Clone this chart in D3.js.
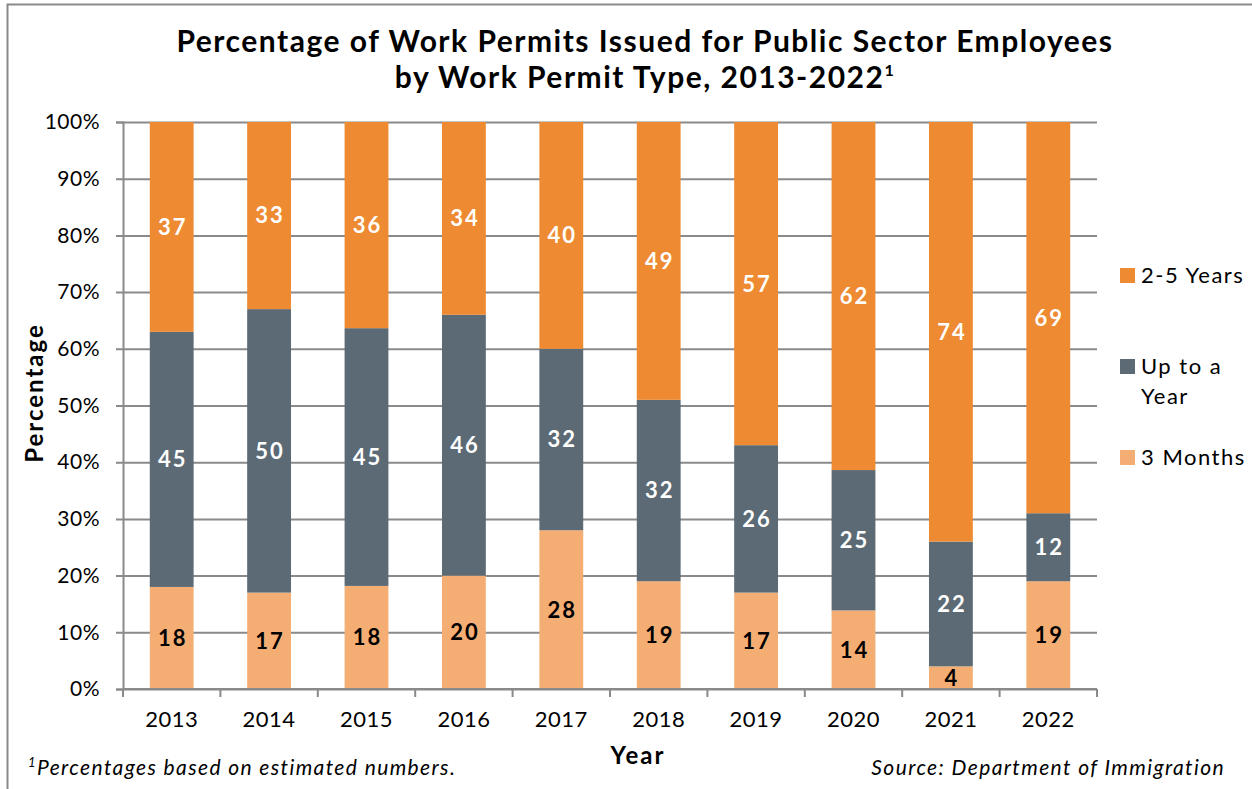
<!DOCTYPE html>
<html>
<head>
	<title>Work Permits by Type</title>
	<script src="https://cdn.jsdelivr.net/npm/d3@7/dist/d3.min.js"></script>
	<style>
		body { margin: 0; background: #fff; }
		text { font-family: Lato, "Open Sans", sans-serif; }
	</style>
</head>
<body>
<script>
	// data (rounded labels, % of permits)
	var years = ["2013","2014","2015","2016","2017","2018","2019","2020","2021","2022"];
	var threeMonths = [18, 17, 18, 20, 28, 19, 17, 14, 4, 19];
	var upToYear    = [45, 50, 45, 46, 32, 32, 26, 25, 22, 12];
	var twoToFive   = [37, 33, 36, 34, 40, 49, 57, 62, 74, 69];
	var seriesNames = ["3 Months", "Up to a Year", "2-5 Years"];
	var yTicks = [0, 0.1, 0.2, 0.3, 0.4, 0.5, 0.6, 0.7, 0.8, 0.9, 1];

	var colors = {"3 Months": "#F4AE74", "Up to a Year": "#5B6A74", "2-5 Years": "#EE8A32"};
	var labelColors = {"3 Months": "#000", "Up to a Year": "#fff", "2-5 Years": "#fff"};

	var svgWidth = 1252, svgHeight = 789;
	var margin = {top: 122, left: 123, right: 155, bottom: 100};
	var width = svgWidth - margin.left - margin.right,   // 974
		height = svgHeight - margin.top - margin.bottom; // 567

	var svg = d3.select("body").append("svg")
		.attr("width", svgWidth)
		.attr("height", svgHeight);

	// frame of the figure box
	svg.append("path")
		.attr("d", "M7.5," + svgHeight + "V4.5H" + svgWidth)
		.attr("fill", "none")
		.attr("stroke", "#8a8a8a")
		.attr("stroke-width", 2);

	// title
	var title = svg.append("text")
		.attr("text-anchor", "middle")
		.attr("font-weight", "bold")
		.attr("font-size", 30)
		.attr("letter-spacing", 1.5)
		.attr("fill", "#000");
	title.append("tspan").attr("x", 645).attr("y", 52)
		.text("Percentage of Work Permits Issued for Public Sector Employees");
	var t2 = title.append("tspan").attr("x", 645).attr("y", 88)
		.text("by Work Permit Type, 2013-2022");
	t2.append("tspan").attr("font-size", 16).attr("dy", -12).text("1");

	var g = svg.append("g")
		.attr("transform", "translate(" + margin.left + "," + margin.top + ")");

	var rows = years.map(function(yr, i) {
		return {year: yr, "3 Months": threeMonths[i], "Up to a Year": upToYear[i], "2-5 Years": twoToFive[i]};
	});

	var stack = d3.stack().keys(seriesNames).offset(d3.stackOffsetExpand);
	var layers = stack(rows);

	var x = d3.scaleBand().domain(years).range([0, width])
		.paddingInner(0.55).paddingOuter(0.275);
	var y = d3.scaleLinear().domain([0, 1]).range([height, 0]);

	// y axis + gridlines
	var yAxis = g.append("g")
		.call(d3.axisLeft(y).tickValues(yTicks).tickFormat(d3.format(".0%")).tickSize(7).tickPadding(16))
		.attr("font-family", null).attr("font-size", null);
	yAxis.select(".domain").attr("stroke", "#8a8a8a").attr("stroke-width", 2);
	yAxis.selectAll(".tick line").attr("x2", width).attr("x1", -7)
		.attr("stroke", "#8a8a8a").attr("stroke-width", 2);
	yAxis.selectAll(".tick text").attr("font-size", 21).attr("letter-spacing", 0.5).attr("fill", "#000");

	// bars
	var layer = g.selectAll(".layer")
		.data(layers)
		.enter().append("g")
		.attr("class", "layer")
		.attr("fill", function(d) { return colors[d.key]; });

	layer.selectAll("rect")
		.data(function(d) { return d; })
		.enter().append("rect")
		.attr("x", function(d) { return x(d.data.year); })
		.attr("y", function(d) { return y(d[1]); })
		.attr("height", function(d) { return y(d[0]) - y(d[1]); })
		.attr("width", x.bandwidth());

	// value labels
	layers.forEach(function(l) {
		g.selectAll(null)
			.data(l)
			.enter().append("text")
			.attr("x", function(d) { return x(d.data.year) + x.bandwidth() / 2 + 1; })
			.attr("y", function(d) { return (y(d[0]) + y(d[1])) / 2; })
			.attr("dy", "0.36em")
			.attr("text-anchor", "middle")
			.attr("font-weight", "bold")
			.attr("font-size", 22)
			.attr("letter-spacing", 2)
			.attr("fill", labelColors[l.key])
			.text(function(d) { return d.data[l.key]; });
	});

	// x axis
	var xg = g.append("g").attr("transform", "translate(0," + height + ")");
	xg.append("line").attr("x1", 0).attr("x2", width)
		.attr("stroke", "#8a8a8a").attr("stroke-width", 2);
	var step = x.step();
	xg.selectAll(".xtick")
		.data(d3.range(years.length + 1))
		.enter().append("line")
		.attr("x1", function(i) { return i * step; })
		.attr("x2", function(i) { return i * step; })
		.attr("y1", 0).attr("y2", 8)
		.attr("stroke", "#8a8a8a").attr("stroke-width", 2);
	xg.selectAll(".xlab")
		.data(years)
		.enter().append("text")
		.attr("x", function(d) { return x(d) + x.bandwidth() / 2; })
		.attr("y", 38)
		.attr("text-anchor", "middle")
		.attr("font-size", 22)
		.attr("letter-spacing", 0.5)
		.attr("fill", "#000")
		.text(function(d) { return d; });

	// axis titles
	svg.append("text")
		.attr("transform", "translate(43,393) rotate(-90)")
		.attr("text-anchor", "middle")
		.attr("font-weight", "bold")
		.attr("font-size", 24)
		.attr("letter-spacing", 2)
		.text("Percentage");
	svg.append("text")
		.attr("x", 638).attr("y", 764)
		.attr("text-anchor", "middle")
		.attr("font-weight", "bold")
		.attr("font-size", 24)
		.attr("letter-spacing", 2)
		.text("Year");

	// legend (top to bottom: 2-5 Years, Up to a Year, 3 Months)
	var legendItems = [
		{key: "2-5 Years", lines: ["2-5 Years"], y: 275},
		{key: "Up to a Year", lines: ["Up to a", "Year"], y: 366},
		{key: "3 Months", lines: ["3 Months"], y: 457}
	];
	var lg = svg.selectAll(".legend")
		.data(legendItems)
		.enter().append("g")
		.attr("transform", function(d) { return "translate(1120," + d.y + ")"; });
	lg.append("rect")
		.attr("x", 0).attr("y", -7)
		.attr("width", 15).attr("height", 15)
		.attr("fill", function(d) { return colors[d.key]; });
	lg.append("text")
		.attr("font-size", 22)
		.attr("letter-spacing", 1.5)
		.attr("fill", "#000")
		.selectAll("tspan")
		.data(function(d) { return d.lines; })
		.enter().append("tspan")
		.attr("x", 21)
		.attr("y", function(d, i) { return i * 30; })
		.attr("dy", "0.36em")
		.text(function(d) { return d; });

	// notes
	var note = svg.append("text")
		.attr("x", 28).attr("y", 775)
		.attr("font-style", "italic")
		.attr("font-size", 21)
		.attr("letter-spacing", 1.4);
	note.append("tspan").attr("font-size", 13).attr("dy", -8).text("1");
	note.append("tspan").attr("dy", 8).text("Percentages based on estimated numbers.");

	svg.append("text")
		.attr("x", 1225).attr("y", 775)
		.attr("text-anchor", "end")
		.attr("font-style", "italic")
		.attr("font-size", 21)
		.attr("letter-spacing", 1.4)
		.text("Source: Department of Immigration");
</script>
</body>
</html>
